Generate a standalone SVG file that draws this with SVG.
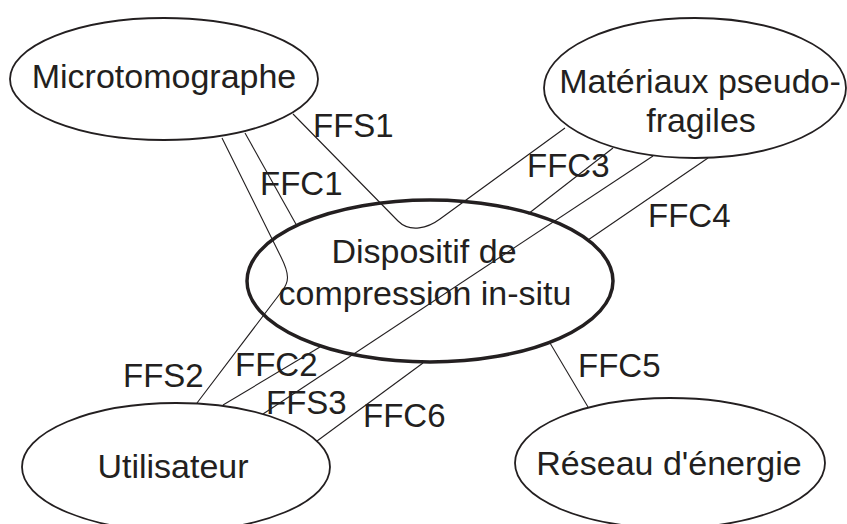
<svg xmlns="http://www.w3.org/2000/svg" width="847" height="524" viewBox="0 0 847 524">
<style>
.node ellipse{fill:#fff;stroke:#231f20;stroke-width:1.8}
#n-dispositif ellipse{stroke-width:3.5;fill:none}
.nt{font-family:"Liberation Sans",Arial,sans-serif;font-size:34px;fill:#231f20;text-anchor:middle}
.lbl{font-family:"Liberation Sans",Arial,sans-serif;font-size:33px;fill:#231f20}
#connectors path,#connectors line{fill:none;stroke:#231f20;stroke-width:1.1}
</style>
<rect width="847" height="524" fill="#fff"/>
<g id="n-micro" class="node">
<ellipse cx="164" cy="79" rx="154" ry="61"/>
<text class="nt" x="164" y="88">Microtomographe</text>
</g>
<g id="n-materiaux" class="node">
<ellipse cx="695" cy="88" rx="151" ry="70"/>
<text class="nt" x="700" y="93">Matériaux pseudo-</text>
<text class="nt" x="701" y="132">fragiles</text>
</g>
<g id="n-utilisateur" class="node">
<ellipse cx="176" cy="467" rx="154" ry="64"/>
<text class="nt" x="173" y="478">Utilisateur</text>
</g>
<g id="n-reseau" class="node">
<ellipse cx="670" cy="463" rx="155" ry="65"/>
<text class="nt" x="669" y="475">Réseau d'énergie</text>
</g>
<g id="connectors">
<path d="M293,114 L398,221 C410,233 428,228 440,219 L565,128"/>
<line x1="245" y1="133" x2="297" y2="226"/>
<path d="M222,138 L281,257 C290,275 289,282 282,291 L197,403"/>
<line x1="613" y1="148" x2="528" y2="214"/>
<line x1="653" y1="156" x2="263" y2="414"/>
<line x1="708" y1="158" x2="588" y2="240"/>
<line x1="223" y1="405" x2="320" y2="347"/>
<line x1="423" y1="363" x2="317" y2="441"/>
<line x1="550" y1="343" x2="588" y2="407"/>
</g>
<g id="n-dispositif" class="node">
<ellipse cx="430" cy="281" rx="183" ry="81"/>
<text class="nt" x="424" y="263">Dispositif de</text>
<text class="nt" x="425" y="305">compression in-situ</text>
</g>
<g id="labels">
<text class="lbl" x="313" y="137">FFS1</text>
<text class="lbl" x="260" y="195">FFC1</text>
<text class="lbl" x="527" y="177">FFC3</text>
<text class="lbl" x="648" y="227">FFC4</text>
<text class="lbl" x="123" y="387">FFS2</text>
<text class="lbl" x="235" y="376">FFC2</text>
<text class="lbl" x="266" y="414">FFS3</text>
<text class="lbl" x="363" y="427">FFC6</text>
<text class="lbl" x="578" y="377">FFC5</text>
</g>
</svg>
